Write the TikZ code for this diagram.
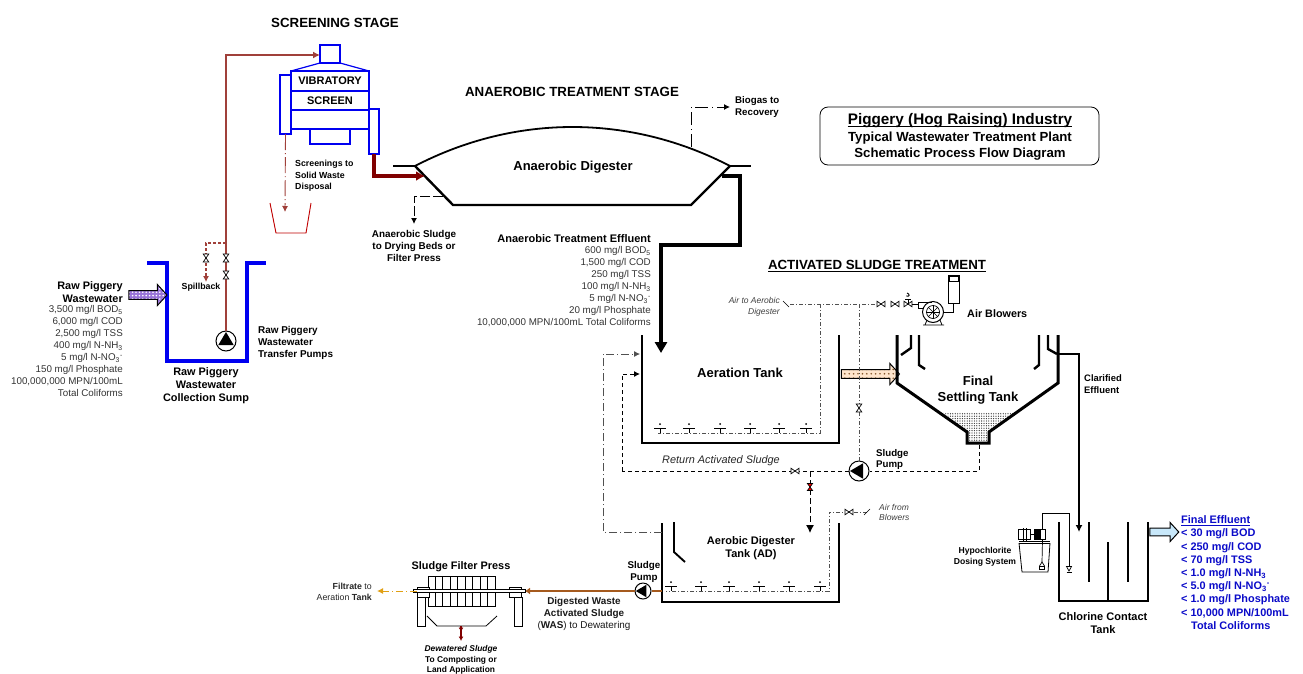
\documentclass[tikz,border=0pt]{standalone}
\usepackage{fontspec}
\setmainfont{Liberation Sans}
\usetikzlibrary{positioning,arrows.meta,calc,patterns.meta,shapes.arrows}
\definecolor{screenblue}{RGB}{0,0,240}
\definecolor{rawbrown}{RGB}{160,64,58}
\definecolor{darkred}{RGB}{128,0,0}
\definecolor{wasbrown}{RGB}{165,90,30}
\definecolor{airgray}{RGB}{80,80,80}
\definecolor{effblue}{RGB}{10,10,200}
\definecolor{filtorange}{RGB}{225,160,20}
\definecolor{outblue}{RGB}{200,232,250}
\tikzset{
  heading/.style ={inner sep=0pt, font=\fontsize{13.3}{15}\selectfont\bfseries},
  tanklbl/.style ={inner sep=0pt, align=center, font=\fontsize{13}{16}\selectfont\bfseries},
  lbl/.style     ={inner sep=0pt, align=center, font=\fontsize{10.9}{13}\selectfont\bfseries},
  smalllbl/.style={inner sep=0pt, align=left, font=\fontsize{8.8}{11.7}\selectfont\bfseries},
  datatxt/.style ={inner sep=0pt, align=right, text=black!80, font=\fontsize{9.8}{12}\selectfont},
  airtxt/.style  ={inner sep=0pt, text=black!75, font=\fontsize{8.5}{10.8}\selectfont\itshape},
  screenbox/.style={draw=screenblue, line width=2pt, outer sep=0pt, minimum width=78pt, inner sep=0pt, font=\fontsize{11}{13}\selectfont\bfseries},
  chute/.style   ={draw=screenblue, line width=2pt, outer sep=0pt, inner sep=0pt},
  vessel/.style  ={draw, line width=2.1pt, line join=miter},
  baffle/.style  ={draw, line width=2.4pt},
  pumpnode/.style={draw, circle, fill=white, line width=1pt, inner sep=0pt},
  airline/.style ={draw=airgray, line width=0.6pt, dash pattern=on 4pt off 2pt on 1pt off 2pt},
  dashline/.style={draw, line width=1pt, dash pattern=on 4pt off 3pt},
  arr/.style     ={-{Latex[length=6pt,width=6pt]}},
  fatarrow/.style={single arrow, draw, line width=1pt, inner sep=0pt, single arrow head extend=5pt, single arrow tip angle=95, text height=6pt, text depth=0pt, text width=1pt},
  bowtie/.pic    ={\draw[fill=white, line width=0.7pt] (-4,-2.8) -- (4,2.8) -- (4,-2.8) -- (-4,2.8) -- cycle;},
  diffuser/.pic  ={\draw[line width=1pt] (-6,-5) -- (6,-5) (0,-5) -- (0,0);
                   \fill (0,-9) circle (1);},
  pumpup/.pic    ={\fill[black] (9,0) -- (-4.2,7.8) -- (-4.2,-7.8) -- cycle;},
}
\begin{document}
\begin{tikzpicture}[x=1pt,y=-1pt]
  \useasboundingbox (0,0) rectangle (1303,673);

  \coordinate (boxtl) at (820,107);
  \coordinate (boxbr) at (1099,165);
  \draw[rounded corners=8pt, line width=0.8pt] (boxtl) rectangle (boxbr);
  \node[inner sep=0pt, font=\fontsize{15.3}{17}\selectfont\bfseries] (title1) at (960,120.5) {Piggery (Hog Raising) Industry};
  \draw[line width=0.9pt] ($(title1.base west)+(0,1.8)$) -- ($(title1.base east)+(0,1.8)$);
  \node[inner sep=0pt, font=\fontsize{13.2}{15}\selectfont\bfseries] (title2) at (960,138) {Typical Wastewater Treatment Plant};
  \node[inner sep=0pt, font=\fontsize{13.2}{15}\selectfont\bfseries] (title3) at (960,154) {Schematic Process Flow Diagram};

  \node[heading] (hscreen) at (335,23) {SCREENING STAGE};
  \node[heading] (hanaer)  at (572,92) {ANAEROBIC TREATMENT STAGE};
  \node[heading] (hasp)    at (877,266) {\underline{ACTIVATED SLUDGE TREATMENT}};

  % screening
  \node[chute, minimum width=20pt, minimum height=18pt] (feedbox) at (330,54) {};
  \node[screenbox, minimum height=20pt] (vib) at (330,81) {VIBRATORY};
  \node[screenbox, minimum height=19pt, below=0pt of vib] (scr) {SCREEN};
  \node[screenbox, minimum height=19pt, below=0pt of scr] (scrlow) {};
  \node[chute, minimum width=40pt, minimum height=15pt, below=0pt of scrlow] (scrfoot) {};
  \draw[screenblue, line width=1.2pt] (feedbox.south west) -- (vib.north west);
  \draw[screenblue, line width=1.2pt] (feedbox.south east) -- (vib.north east);
  \node[chute, minimum width=11pt, minimum height=59pt, anchor=north] (scrleft) at (285.5,75) {};
  \node[chute, minimum width=10pt, minimum height=45pt, anchor=north] (scrright) at (374,109) {};

  \coordinate (hopl) at (270,203);
  \coordinate (hopr) at (311,203);
  \coordinate (scrdrop) at (285,212);
  \draw[red!75!black, line width=0.9pt] (hopl) -- (276,233) -- (306,233) -- (hopr);
  \draw[rawbrown, line width=0.9pt, dash pattern=on 16pt off 3pt on 1pt off 3pt, arr] (scrleft.south) -- (scrdrop);
  \node[smalllbl, anchor=west] (lscreenings) at (295,176) {Screenings to\\Solid Waste\\Disposal};

  % raw wastewater sump
  \draw[screenblue, line width=4pt, line join=miter] (147,263) -- (167,263) -- (167,361) -- (247,361) -- (247,263) -- (266,263);
  \node[pumpnode, minimum size=20pt] (rawpump) at (226,341) {};
  \pic[rotate=90] at (rawpump) {pumpup};
  \coordinate (feedin) at (320,55);
  \draw[rawbrown, line width=2pt, -{Latex[length=7pt,width=7pt]}] (rawpump.north) |- (feedin);
  \coordinate (spilltop) at (226,243);
  \coordinate (spillend) at (206,282);
  \draw[rawbrown, line width=1.1pt, densely dashed, arr] (spilltop) -| (spillend);
  \pic[rotate=90] at (206,258) {bowtie};
  \pic[rotate=90] at (226,258) {bowtie};
  \pic[rotate=90] at (226,275) {bowtie};
  \node[smalllbl] (lspill) at (201,287) {Spillback};
  \node[lbl, align=right, anchor=east] (lraw) at (123,292.5) {Raw Piggery\\Wastewater};
  \node[datatxt, anchor=north east] (draw1) at (123,305.5) {3,500 mg/l BOD\textsubscript{5}\\6,000 mg/l COD\\2,500 mg/l TSS\\400 mg/l N-NH\textsubscript{3}\\5 mg/l N-NO\textsubscript{3}\textsuperscript{-}\\150 mg/l Phosphate\\100,000,000 MPN/100mL\\Total Coliforms};
  \node[fatarrow, minimum height=38pt, minimum width=21pt, pattern={Dots[radius=0.9pt,distance=3.4pt]}, pattern color=white, preaction={fill=violet!55!blue!55}, draw=black] (rawin) at (146,295) {};
  \node[lbl] (lsump) at (206,386) {Raw Piggery\\Wastewater\\Collection Sump};
  \node[smalllbl, font=\fontsize{9.9}{12}\selectfont\bfseries, anchor=west] (ltransfer) at (258,343) {Raw Piggery\\Wastewater\\Transfer Pumps};

  % anaerobic digester
  \coordinate (adl) at (415,166);
  \coordinate (adr) at (730,166);
  \draw[line width=1.8pt, line join=miter] (adl) .. controls (515,114) and (630,114) .. (adr);
  \draw[line width=2.4pt, line join=miter] (adl) -- (453,205) -- (691,205) -- (adr);
  \draw[line width=2pt] (393,166) -- (adl) (adr) -- (751,166);
  \node[tanklbl] (lad) at (573,167) {Anaerobic Digester};
  \coordinate (adin) at (425,176);
  \coordinate (adout) at (722,176);
  \draw[darkred, line width=3.2pt, -{Latex[length=9pt,width=10pt]}] (scrright.south) |- (adin);
  \coordinate (tankin) at (661,353);
  \draw[line width=3.4pt, -{Triangle[length=11pt,width=12pt]}] (adout) -- (740,176) -- (740,245) -- (661,245) -- (tankin);
  \coordinate (gasout) at (691,147);
  \coordinate (gasend) at (730,107);
  \draw[line width=1pt, dash pattern=on 13pt off 4pt on 1pt off 4pt, arr] (gasout) |- (gasend);
  \node[smalllbl, font=\fontsize{9.7}{12}\selectfont\bfseries, anchor=west] (lgas) at (735,106.5) {Biogas to\\Recovery};
  \coordinate (adsl) at (443,196);
  \coordinate (adsle) at (414,224);
  \draw[dashline, dash pattern=on 10pt off 3pt, arr] (adsl) -| (adsle);
  \node[smalllbl, font=\fontsize{9.9}{12}\selectfont\bfseries, align=center] (lads) at (414,246) {Anaerobic Sludge\\to Drying Beds or\\Filter Press};
  \node[inner sep=0pt, font=\fontsize{11}{13}\selectfont\bfseries, anchor=east] (leff) at (651,239) {Anaerobic Treatment Effluent};
  \node[datatxt, anchor=north east] (deff) at (651,246.5) {600 mg/l BOD\textsubscript{5}\\1,500 mg/l COD\\250 mg/l TSS\\100 mg/l N-NH\textsubscript{3}\\5 mg/l N-NO\textsubscript{3}\textsuperscript{-}\\20 mg/l Phosphate\\10,000,000 MPN/100mL Total Coliforms};

  % aeration tank
  \draw[vessel] (642,335) -- (642,443) -- (839,443) -- (839,335);
  \node[tanklbl] (latank) at (740,373) {Aeration Tank};
  \coordinate (airhead) at (790,304);
  \coordinate (airtee) at (820,304);
  \coordinate (airvalve) at (881,304);
  \draw[airline] (airhead) -- (airvalve);
  \draw[airline] (airtee) -- (820,433) -- (658,433);
  \draw[line width=0.6pt] (783,301) -- (789,307);
  \foreach \dx in {660,689,720,750,779,806} { \pic at (\dx,433) {diffuser}; }
  \node[airtxt, align=right, anchor=east] (lairad) at (780,307) {Air to Aerobic\\Digester};
  \node[fatarrow, minimum height=58pt, minimum width=21pt, pattern={Dots[radius=0.9pt,distance=4.4pt]}, pattern color=brown!70!black, preaction={fill=orange!20}] (mlss) at (868.5,374) {};

  % blowers
  \node[pumpnode, minimum size=21pt] (blower) at (933,312) {};
  \foreach \a in {0,45,...,315} { \draw[line width=0.6pt] (blower.center) -- ++(\a:7); }
  \draw[line width=0.7pt] (blower.center) circle (6.5);
  \draw[line width=0.8pt] (918,308) -- (918,302) -- (932,302);
  \draw[line width=0.8pt] (918,308) -- (923.5,308);
  \draw[line width=0.8pt] (923,325) -- (944,325) (925,325) -- (927,320) (942,325) -- (940,320);
  \node[draw, line width=0.8pt, fill=white, minimum width=11pt, minimum height=28pt, inner sep=0pt] (aircyl) at (953.5,289) {};
  \draw[line width=0.6pt] (949,276) rectangle (958,281);
  \draw[line width=0.8pt] (aircyl.south) |- (blower.east);
  \pic at (881,304) {bowtie};
  \pic at (895,304) {bowtie};
  \pic at (908,304) {bowtie};
  \draw[line width=0.8pt] (908,304) -- (908,299) (905,299) -- (911,299);
  \draw[line width=0.9pt] (906,296) .. controls (910,297) and (910,294) .. (907,293);
  \draw[line width=0.8pt] (912,304) -- (918,304);
  \node[inner sep=0pt, font=\fontsize{10.8}{12}\selectfont\bfseries, anchor=west] (lblow) at (967,314) {Air Blowers};

  % final settling
  \coordinate (fstl) at (967,432);
  \coordinate (fstr) at (989,432);
  \fill[pattern={Dots[radius=0.65pt,distance=2.4pt]}, pattern color=black!80] (943,412) -- (1015,412) -- (fstr) -- (989,443) -- (967,443) -- (fstl) -- cycle;
  \draw[line width=3pt, line join=miter] (897,335) -- (897,383) -- (fstl) -- (967,443) -- (989,443) -- (fstr) -- (1058,383) -- (1058,335);
  \draw[baffle] (911,335) -- (911,348) -- (901,355);
  \draw[baffle] (919,335) -- (919,365) -- (925,369);
  \draw[baffle] (1039,335) -- (1039,365) -- (1034,369);
  \draw[baffle] (1048,335) -- (1048,349) -- (1057,354);
  \node[tanklbl] (lfst) at (978,390) {Final\\Settling Tank};

  % return sludge
  \node[pumpnode, minimum size=20pt] (raspump) at (859,471) {};
  \pic[rotate=180] at (raspump) {pumpup};
  \coordinate (fstout) at (979,445);
  \coordinate (rasin) at (640,374);
  \coordinate (rasbend) at (622,471);
  \draw[dashline] (fstout) |- (raspump.east);
  \draw[dashline] (raspump.west) -- (rasbend);
  \draw[dashline, arr] (rasbend) |- (rasin);
  \draw[airline, line width=0.7pt] (859,304) -- (raspump.north);
  \pic[rotate=90] at (859,408) {bowtie};
  \pic at (795,471) {bowtie};
  \node[inner sep=0pt, text=black!85, font=\fontsize{10.9}{12}\selectfont\itshape] (lras) at (721,461) {Return Activated Sludge};
  \node[smalllbl, font=\fontsize{9.7}{11.5}\selectfont\bfseries, anchor=west] (lraspump) at (876,459.5) {Sludge\\Pump};
  \coordinate (wastee) at (810,471);
  \coordinate (wasend) at (810,533);
  \draw[dashline, dash pattern=on 6pt off 3pt, -{Latex[length=8pt,width=8pt]}] (wastee) -- (wasend);
  \draw[fill=red, line width=0.7pt] (807.4,483.5) -- (812.6,490.5) -- (807.4,490.5) -- (812.6,483.5) -- cycle;

  % aerobic digester
  \draw[vessel] (662,523) -- (662,602) -- (839,602) -- (839,523);
  \draw[baffle, line width=1.9pt] (674,522) -- (674,552) -- (685,562);
  \node[lbl, font=\fontsize{11}{13}\selectfont\bfseries] (ladt) at (751,548.5) {Aerobic Digester\\Tank (AD)};
  \coordinate (airadin) at (867,512);
  \draw[airline] (airadin) -- (829,512) -- (829,591) -- (666,591);
  \draw[line width=0.6pt] (864,515) -- (870,509);
  \pic at (849,512) {bowtie};
  \foreach \dx in {671,701,729,759,789,820} { \pic at (\dx,591) {diffuser}; }
  \node[airtxt, align=left, anchor=west] (lairfrom) at (879,512.5) {Air from\\Blowers};
  \coordinate (adret) at (662,532);
  \coordinate (tankret) at (640,354);
  \draw[line width=0.8pt, draw=airgray, dash pattern=on 8pt off 3pt on 1pt off 3pt, arr] (adret) -- (603,532) |- (tankret);

  % filter press
  \node[pumpnode, minimum size=16pt] (waspump) at (643,591) {};
  \coordinate (wasout) at (662,591);
  \coordinate (presse) at (525,591);
  \draw[wasbrown, line width=2.4pt] (wasout) -- (waspump.east);
  \draw[wasbrown, line width=2.4pt, -{Latex[length=5pt,width=7pt]}] (waspump.west) -- (presse);
  \pic[rotate=180, scale=0.8] at (waspump) {pumpup};
  \node[smalllbl, font=\fontsize{9.8}{12}\selectfont\bfseries, align=center] (lwaspump) at (644,572) {Sludge\\Pump};
  \foreach \dx in {0,7.44,...,60} { \draw[line width=0.8pt] (428+\dx,576) rectangle ++(7.44,30); }
  \foreach \dx in {417,509} { \draw[line width=0.9pt, fill=white] (\dx,587) rectangle ++(12,10); }
  \draw[line width=0.9pt, fill=white] (417,597) rectangle (425,626);
  \draw[line width=0.9pt, fill=white] (514,597) rectangle (522,626);
  \draw[line width=0.7pt, fill=white] (413,589.3) rectangle (525,592.7);
  \draw[line width=0.8pt] (427,616) -- (437,626) -- (486,626) -- (497,616);
  \coordinate (pressbot) at (461,626);
  \coordinate (pressdrop) at (461,641);
  \draw[darkred, line width=1.1pt, -{Latex[length=4.5pt,width=5pt]}] (pressbot) -- (pressdrop);
  \draw[darkred, line width=1.1pt, -{Latex[length=4.5pt,width=5pt]}] (pressbot) -- (461,632);
  \coordinate (pressl) at (417,591);
  \coordinate (filtend) at (377,591);
  \draw[filtorange, line width=1pt, dash pattern=on 7pt off 3pt on 1pt off 3pt, arr] (pressl) -- (filtend);
  \node[inner sep=0pt, align=right, anchor=east, text=black!85, font=\fontsize{8.8}{11}\selectfont] (lfilt) at (372,591.5) {\textbf{Filtrate} to\\Aeration \textbf{Tank}};
  \node[lbl] (lpress) at (461,566.5) {Sludge Filter Press};
  \node[inner sep=0pt, align=center, text=black!90, font=\fontsize{9.9}{12}\selectfont] (lwas) at (584,613.5) {\textbf{Digested Waste}\\\textbf{Activated Sludge}\\(\textbf{WAS}) to Dewatering};
  \node[inner sep=0pt, align=center, font=\fontsize{8.4}{10.2}\selectfont\bfseries, anchor=north] (ldew) at (461,645.5) {\textit{Dewatered Sludge}\\To Composting or\\Land Application};

  % chlorine contact
  \draw[vessel, line width=1.8pt] (1059,522) -- (1059,601) -- (1148,601) -- (1148,522);
  \draw[line width=1.8pt] (1089,522) -- (1089,582) (1128,522) -- (1128,582) (1108,542) -- (1108,601);
  \coordinate (fstover) at (1057,354);
  \coordinate (cctin) at (1079,532);
  \draw[line width=1.4pt, -{Latex[length=7pt,width=7pt]}] (fstover) -| (cctin);
  \node[smalllbl, font=\fontsize{9.4}{12}\selectfont\bfseries, anchor=west] (lclar) at (1084,384) {Clarified\\Effluent};
  \node[fatarrow, minimum height=29pt, minimum width=19pt, fill=outblue] (finalout) at (1162.5,532) {};
  \node[inner sep=0pt, align=left, anchor=north west, text=effblue, font=\fontsize{10.9}{13.2}\selectfont\bfseries] (dfinal) at (1181,515.5) {\underline{Final Effluent}\\< 30 mg/l BOD\\< 250 mg/l COD\\< 70 mg/l TSS\\< 1.0 mg/l N-NH\textsubscript{3}\\< 5.0 mg/l N-NO\textsubscript{3}\textsuperscript{-}\\< 1.0 mg/l Phosphate\\< 10,000 MPN/100mL\\\hspace*{10pt}Total Coliforms};
  \node[lbl, font=\fontsize{11}{13}\selectfont\bfseries] (lcct) at (1103,623.5) {Chlorine Contact\\Tank};

  % hypochlorite dosing
  \draw[line width=0.8pt] (1019,543) -- (1022,572) -- (1048,572) -- (1050,543);
  \draw[line width=0.8pt] (1019,541.5) -- (1050,541.5) (1019,543.5) -- (1050,543.5);
  \draw[line width=0.7pt] (1018,529) rectangle (1030,539) (1023,528) -- (1023,541) (1026,528) -- (1026,541);
  \draw[line width=0.7pt] (1030,534) -- (1034,534);
  \node[draw, line width=0.7pt, fill=black, minimum width=5pt, minimum height=10pt, inner sep=0pt] (dosemotor) at (1037,534) {};
  \node[draw, line width=0.7pt, minimum width=5pt, minimum height=10pt, inner sep=0pt] (dosehead) at (1042.5,534) {};
  \coordinate (doseend) at (1069,566);
  \draw[line width=0.9pt] (dosehead.north) |- (1069,513) -- (doseend);
  \draw[line width=0.7pt, fill=white] (1066.5,566.5) -- (1071.5,566.5) -- (1069,571) -- cycle;
  \draw[line width=0.6pt] (1066.5,572) -- (1071.5,572);
  \draw[line width=0.7pt] (dosehead.south) -- (1042,562);
  \draw[line width=0.7pt, fill=white] (1039.5,566) rectangle (1044.5,569.5);
  \draw[line width=0.7pt] (1039.5,566) -- (1042,562) -- (1044.5,566);
  \node[smalllbl, font=\fontsize{8.6}{11}\selectfont\bfseries, align=center] (lhypo) at (985,556.5) {Hypochlorite\\Dosing System};
\end{tikzpicture}
\end{document}
